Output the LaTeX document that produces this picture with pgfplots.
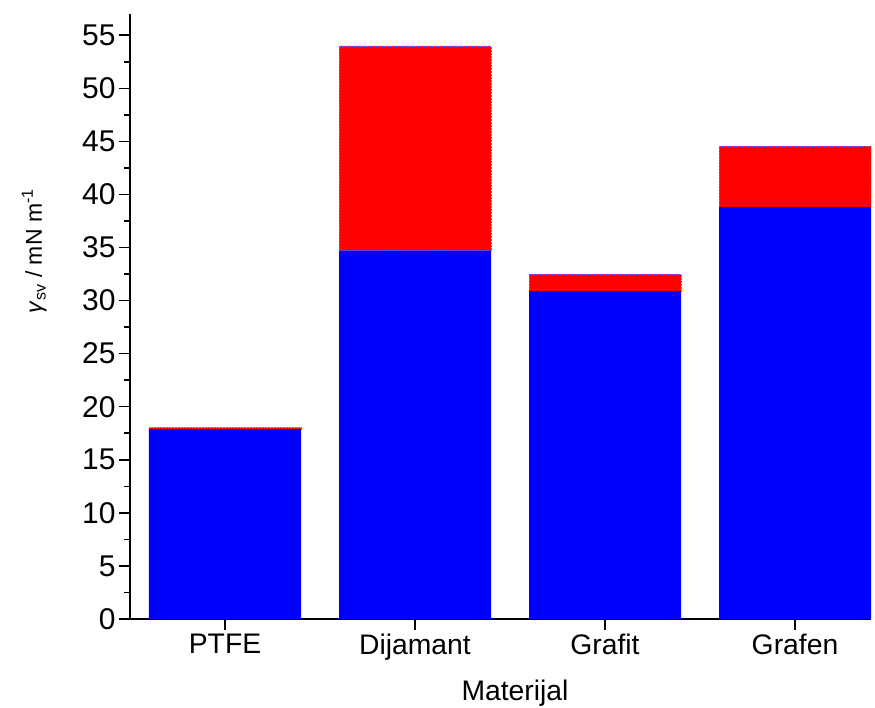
\documentclass[border=0pt]{standalone}
\usepackage{fontspec}
\setmainfont{Liberation Sans}
\usepackage{pgfplots}
\pgfplotsset{compat=1.18}

\begin{document}
\begin{tikzpicture}
\begin{axis}[
    name=ax,
    scale only axis,
    width=741pt, height=605pt,
    ybar stacked,
    bar width=0.8,
    xmin=-0.5, xmax=3.4,
    ymin=0, ymax=57,
    axis lines=left,
    axis line style={line width=1.5pt, -},
    xtick={0,1,2,3},
    xticklabels={PTFE,Dijamant,Grafit,Grafen},
    ytick={0,5,...,55},
    minor y tick num=1,
    minor x tick num=0,
    tick align=outside,
    major tick length=11pt,
    minor tick length=6pt,
    tick style={line width=1.5pt, black},
    /pgf/number format/assume math mode=true,
    yticklabel style={font=\fontsize{30}{36}\selectfont},
    xticklabel style={font=\fontsize{28.3}{34}\selectfont},
    xlabel={Materijal},
    xlabel style={font=\fontsize{28.3}{34}\selectfont,
        at={(axis description cs:0.5196,-0.1345)}, anchor=base},
    ylabel={\textit{γ}\textsubscript{sv} / mN m\textsuperscript{-1}},
    ylabel style={font=\fontsize{23}{28}\selectfont,
        at={(axis description cs:-0.1188,0.608)}, anchor=base},
]
% blue part
\addplot[fill=blue, draw=none] coordinates {
    (0, 17.9) (1, 34.7) (2, 30.9) (3, 38.8)
};
% red part
\addplot[fill=red, draw=blue!60, densely dotted, line width=0.5pt] coordinates {
    (0, 0.12) (1, 19.3) (2, 1.6) (3, 5.75)
};
\end{axis}
\pgfresetboundingbox
\useasboundingbox ([shift={(-130pt,-89pt)}]ax.south west) rectangle ([shift={(4pt,14pt)}]ax.north east);
\end{tikzpicture}
\end{document}
